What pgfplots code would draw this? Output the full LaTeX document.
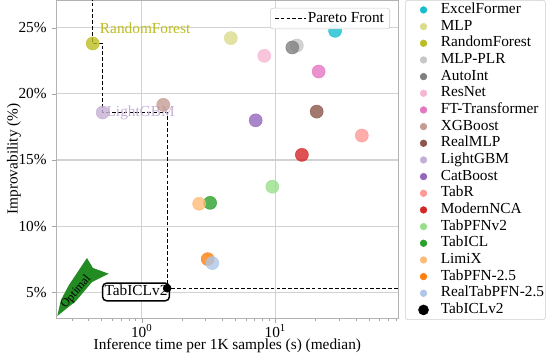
\documentclass[border=0pt]{standalone}
\usepackage{fontspec}
\setmainfont{Liberation Serif}
\usepackage{pgfplots}
\pgfplotsset{compat=1.18}

\definecolor{cExcel}{HTML}{17BECF}
\definecolor{cMLP}{HTML}{DBDB8D}
\definecolor{cRF}{HTML}{BCBD22}
\definecolor{cPLR}{HTML}{C7C7C7}
\definecolor{cAuto}{HTML}{7F7F7F}
\definecolor{cRes}{HTML}{F7B6D2}
\definecolor{cFT}{HTML}{E377C2}
\definecolor{cXGB}{HTML}{C49C94}
\definecolor{cReal}{HTML}{8C564B}
\definecolor{cLGBM}{HTML}{C5B0D5}
\definecolor{cCat}{HTML}{9467BD}
\definecolor{cTabR}{HTML}{FF9896}
\definecolor{cNCA}{HTML}{D62728}
\definecolor{cPFN}{HTML}{98DF8A}
\definecolor{cICL}{HTML}{2CA02C}
\definecolor{cLimi}{HTML}{FFBB78}
\definecolor{cPFNf}{HTML}{FF7F0E}
\definecolor{cRPFN}{HTML}{AEC7E8}
\definecolor{cArrow}{HTML}{228B22}

\pgfplotsset{
  pt/.style={only marks, mark=*, mark size=4.9pt, color=#1, opacity=0.8},
  pareto/.style={black, line width=0.8pt, dash pattern=on 2.8pt off 1.6pt},
}

\begin{document}
\fontsize{11.5}{13.8}\selectfont
\begin{tikzpicture}
\useasboundingbox (-42.5pt,-31.5pt) rectangle (368.5pt,238.5pt);
\begin{axis}[
  at={(0pt,0pt)}, anchor=south west,
  scale only axis, width=256pt, height=238.5pt,
  xmode=log,
  xmin=0.231, xmax=82.8, ymin=3.05, ymax=27.1,
  xtick={1,10}, xticklabels={10\textsuperscript{0},10\textsuperscript{1}},
  minor xtick={0.3,0.4,0.5,0.6,0.7,0.8,0.9,2,3,4,5,6,7,8,9,20,30,40,50,60,70,80},
  ytick={5,10,15,20,25}, yticklabels={5\%,10\%,15\%,20\%,25\%},
  xtick pos=left, ytick pos=left, tick align=outside,
  major tick length=3.5pt, minor tick length=2pt,
  tick style={gray!70},
  axis line style={gray!60},
  grid=major, major grid style={gray!35, line width=0.8pt},
  xticklabel style={yshift=2.5pt},
  xlabel={Inference time per 1K samples (s) (median)},
  ylabel={Improvability (\%)},
  x label style={at={(axis description cs:0.5,-0.086)}, anchor=center},
  y label style={at={(axis description cs:-0.125,0.5)}, anchor=center},
  legend style={at={(1,1)}, xshift=5.25pt, anchor=north west,
    draw=gray!40, rounded corners=2pt, fill=white,
    inner xsep=0pt, inner ysep=1pt,
    nodes={inner sep=1pt, text height=8pt, text depth=2.5pt},
    /tikz/column sep=0pt, row sep=0pt},
  legend cell align=left,
  legend image code/.code={\path (0pt,0pt) (25.25pt,0pt);
    \draw[#1, mark size=2.5pt, opacity=1] plot coordinates {(13.5pt,0pt)};},
]
\addplot[pt=cExcel] coordinates {(28.0,24.77)};
\addlegendentry{ExcelFormer}
\addplot[pt=cMLP] coordinates {(4.64,24.22)};
\addlegendentry{MLP}
\addplot[pt=cRF] coordinates {(0.43,23.81)};
\addlegendentry{RandomForest}
\addplot[pt=cPLR] coordinates {(14.5,23.66)};
\addlegendentry{MLP-PLR}
\addplot[pt=cAuto] coordinates {(13.4,23.51)};
\addlegendentry{AutoInt}
\addplot[pt=cRes] coordinates {(8.27,22.88)};
\addlegendentry{ResNet}
\addplot[pt=cFT] coordinates {(21.1,21.69)};
\addlegendentry{FT-Transformer}
\addplot[pt=cXGB] coordinates {(1.45,19.17)};
\addlegendentry{XGBoost}
\addplot[pt=cReal] coordinates {(20.4,18.66)};
\addlegendentry{RealMLP}
\addplot[pt=cLGBM] coordinates {(0.51,18.59)};
\addlegendentry{LightGBM}
\addplot[pt=cCat] coordinates {(7.13,18.0)};
\addlegendentry{CatBoost}
\addplot[pt=cTabR] coordinates {(44.4,16.85)};
\addlegendentry{TabR}
\addplot[pt=cNCA] coordinates {(15.8,15.39)};
\addlegendentry{ModernNCA}
\addplot[pt=cPFN] coordinates {(9.5,12.98)};
\addlegendentry{TabPFNv2}
\addplot[pt=cICL] coordinates {(3.25,11.76)};
\addlegendentry{TabICL}
\addplot[pt=cLimi] coordinates {(2.69,11.69)};
\addlegendentry{LimiX}
\addplot[pt=cPFNf] coordinates {(3.12,7.50)};
\addlegendentry{TabPFN-2.5}
\addplot[pt=cRPFN] coordinates {(3.38,7.20)};
\addlegendentry{RealTabPFN-2.5}
\addplot[only marks, mark=*, mark size=3pt, black,
  legend image code/.code={\path (0pt,0pt) (25.25pt,0pt);
    \fill[black] (13.5pt,0pt) circle (3.75pt);}] coordinates {(1.55,5.3)};
\addlegendentry{TabICLv2}

% Pareto front
\addplot[pareto, forget plot] coordinates {
  (0.43,30) (0.43,23.81) (0.51,23.81) (0.51,18.59)
  (1.55,18.59) (1.55,5.3) (100,5.3)};

\node[text=cRF, anchor=west, xshift=1.4pt, yshift=11.8pt] at (axis cs:0.43,23.81) {RandomForest};
\node[text=cLGBM, anchor=west, xshift=2.8pt, yshift=-0.5pt, inner sep=0pt] at (axis cs:0.51,18.59) {LightGBM};
\node[draw=black, line width=1.1pt, rounded corners=3pt, fill=white,
  inner xsep=1.5pt, inner ysep=1.6pt, text height=8pt, text depth=2pt,
  anchor=east, xshift=2.25pt, yshift=-2.8pt] at (axis cs:1.55,5.3) {TabICLv2};
\end{axis}

% second legend (Pareto front)
\begin{axis}[
  at={(0pt,0pt)}, anchor=south west,
  scale only axis, width=256pt, height=238.5pt,
  hide axis, xmode=log,
  xmin=0.231, xmax=82.8, ymin=3.05, ymax=27.1,
  legend style={at={(0.9766,0.975)}, anchor=north east,
    draw=gray!40, rounded corners=2pt, fill=white, fill opacity=0.9, text opacity=1,
    inner xsep=3pt, inner ysep=1.5pt,
    nodes={inner xsep=1.3pt, inner ysep=1pt, text height=8pt, text depth=2.5pt}},
  legend image code/.code={\draw[#1] (0pt,0pt) -- (23pt,0pt);},
]
\addlegendimage{pareto}
\addlegendentry{Pareto Front}
\end{axis}

% "Optimal" arrow
\fill[cArrow] (0.45pt,1.5pt) -- (3.2pt,13.5pt) -- (9.2pt,24.75pt) -- (22.7pt,45pt)
  -- (27.2pt,37.5pt) -- (39pt,33.2pt) -- (26.5pt,27pt) -- (14.5pt,12.75pt) -- cycle;
\node[rotate=50, font=\fontsize{9}{10}\selectfont, inner sep=0pt] at (14.6pt,19.6pt) {Optimal};
\end{tikzpicture}
\end{document}
